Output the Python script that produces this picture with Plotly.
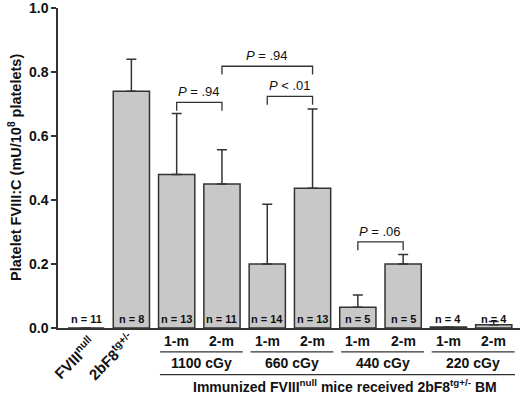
import plotly.graph_objects as go

# ---- data ----
bar_labels = ["FVIII<sup>null</sup>", "2bF8<sup>tg+/-</sup>",
              "1-m", "2-m", "1-m", "2-m", "1-m", "2-m", "1-m", "2-m"]
values = [0.0, 0.74, 0.48, 0.45, 0.20, 0.437, 0.065, 0.20, 0.003, 0.01]
err_plus = [0.0, 0.10, 0.19, 0.107, 0.187, 0.247, 0.038, 0.03, 0.0, 0.01]
n_labels = ["n = 11", "n = 8", "n = 13", "n = 11", "n = 14", "n = 13",
            "n = 5", "n = 5", "n = 4", "n = 4"]
dose_groups = ["1100 cGy", "660 cGy", "440 cGy", "220 cGy"]
p_tests = [  # (left bar, right bar, bracket level, text)
    (2, 3, 0.705, "<i>P</i> = .94"),
    (3, 5, 0.818, "<i>P</i> = .94"),
    (4, 5, 0.724, "<i>P</i> &lt; .01"),
    (6, 7, 0.269, "<i>P</i> = .06"),
]
y_ticks = [0.0, 0.2, 0.4, 0.6, 0.8, 1.0]

FONT = "Liberation Sans, Arial, sans-serif"
DARK = "#333333"
x = list(range(len(values)))

fig = go.Figure()
fig.add_trace(go.Bar(
    x=x, y=values, width=0.8,
    marker=dict(color="#c8c8c8", line=dict(color=DARK, width=1.5)),
    error_y=dict(type="data", symmetric=False, array=err_plus,
                 arrayminus=[0] * len(values), color=DARK, thickness=1.5, width=5),
    showlegend=False,
))

ann = []
shapes = []
# n labels
for i, t in enumerate(n_labels):
    ann.append(dict(x=i, y=0.0, xref="x", yref="y", text=f"<b>{t}</b>",
                    showarrow=False, xanchor="center", yanchor="bottom", yshift=1,
                    font=dict(size=11, color="#111", family=FONT)))
# P brackets
for a, b, lvl, t in p_tests:
    tip = 0.026
    shapes.append(dict(type="path", xref="x", yref="y",
                       path=f"M {a},{lvl - tip} L {a},{lvl} L {b},{lvl} L {b},{lvl - tip}",
                       line=dict(color=DARK, width=1.3)))
    ann.append(dict(x=(a + b) / 2, y=lvl, xref="x", yref="y", text=t, showarrow=False,
                    xanchor="center", yanchor="bottom", yshift=1,
                    font=dict(size=13, color="#111", family=FONT)))

def py(p):
    return (328 - p) / 323.0

def px(p):
    return (p - 58) / 462.0

# rotated first two labels
ann.append(dict(x=px(74), y=py(358), xref="paper", yref="paper", text=f"<b>{bar_labels[0]}</b>",
                showarrow=False, textangle=-45, xanchor="center", yanchor="middle",
                font=dict(size=15, color="#111", family=FONT)))
ann.append(dict(x=px(111), y=py(356), xref="paper", yref="paper", text=f"<b>{bar_labels[1]}</b>",
                showarrow=False, textangle=-45, xanchor="center", yanchor="middle",
                font=dict(size=15, color="#111", family=FONT)))

# month labels, group lines and group labels
for gi, g in enumerate(dose_groups):
    i1 = 2 + 2 * gi
    i2 = i1 + 1
    for i in (i1, i2):
        ann.append(dict(x=i, y=py(341), xref="x", yref="paper", text=f"<b>{bar_labels[i]}</b>",
                        showarrow=False, xanchor="center", yanchor="middle",
                        font=dict(size=14, color="#111", family=FONT)))
    shapes.append(dict(type="line", xref="x", yref="paper", x0=i1 - 0.37, x1=i2 + 0.46,
                       y0=py(352), y1=py(352), line=dict(color=DARK, width=1.3)))
    ann.append(dict(x=(i1 + i2) / 2 + 0.05, y=py(363), xref="x", yref="paper", text=f"<b>{g}</b>",
                    showarrow=False, xanchor="center", yanchor="middle",
                    font=dict(size=14, color="#111", family=FONT)))

shapes.append(dict(type="line", xref="x", yref="paper", x0=1.63, x1=9.47,
                   y0=py(375), y1=py(375), line=dict(color=DARK, width=1.3)))
ann.append(dict(x=5.72, y=py(386.5), xref="x", yref="paper",
                text="<b>Immunized FVIII<sup>null</sup> mice received 2bF8<sup>tg+/-</sup> BM</b>",
                showarrow=False, xanchor="center", yanchor="middle",
                font=dict(size=14, color="#111", family=FONT)))

# y-axis title
ann.append(dict(x=px(15), y=0.5, xref="paper", yref="paper",
                text="<b>Platelet FVIII:C (mU/10<sup>8</sup> platelets)</b>",
                showarrow=False, textangle=-90, xanchor="center", yanchor="middle",
                font=dict(size=14.5, color="#111", family=FONT)))

fig.update_layout(
    width=520, height=393,
    margin=dict(l=58, r=0, t=5, b=65),
    paper_bgcolor="white", plot_bgcolor="white",
    annotations=ann, shapes=shapes,
    bargap=0.2,
    xaxis=dict(range=[-0.62, 9.58], showticklabels=False, ticks="", showgrid=False,
               zeroline=False, showline=True, linecolor=DARK, linewidth=1.5, fixedrange=True),
    yaxis=dict(range=[0, 1.0], tickvals=y_ticks, ticktext=[f"<b>{v:.1f}</b>" for v in y_ticks],
               ticks="outside", ticklen=5, tickwidth=1.5, tickcolor=DARK,
               ticklabeloverflow="allow",
               showline=True, linecolor=DARK, linewidth=1.5, showgrid=False, zeroline=False,
               tickfont=dict(size=14, color="#111", family=FONT)),
)
fig.write_html("out.html", config={"displayModeBar": False},
               post_script="document.body.style.margin='0';document.body.style.overflow='hidden';")
